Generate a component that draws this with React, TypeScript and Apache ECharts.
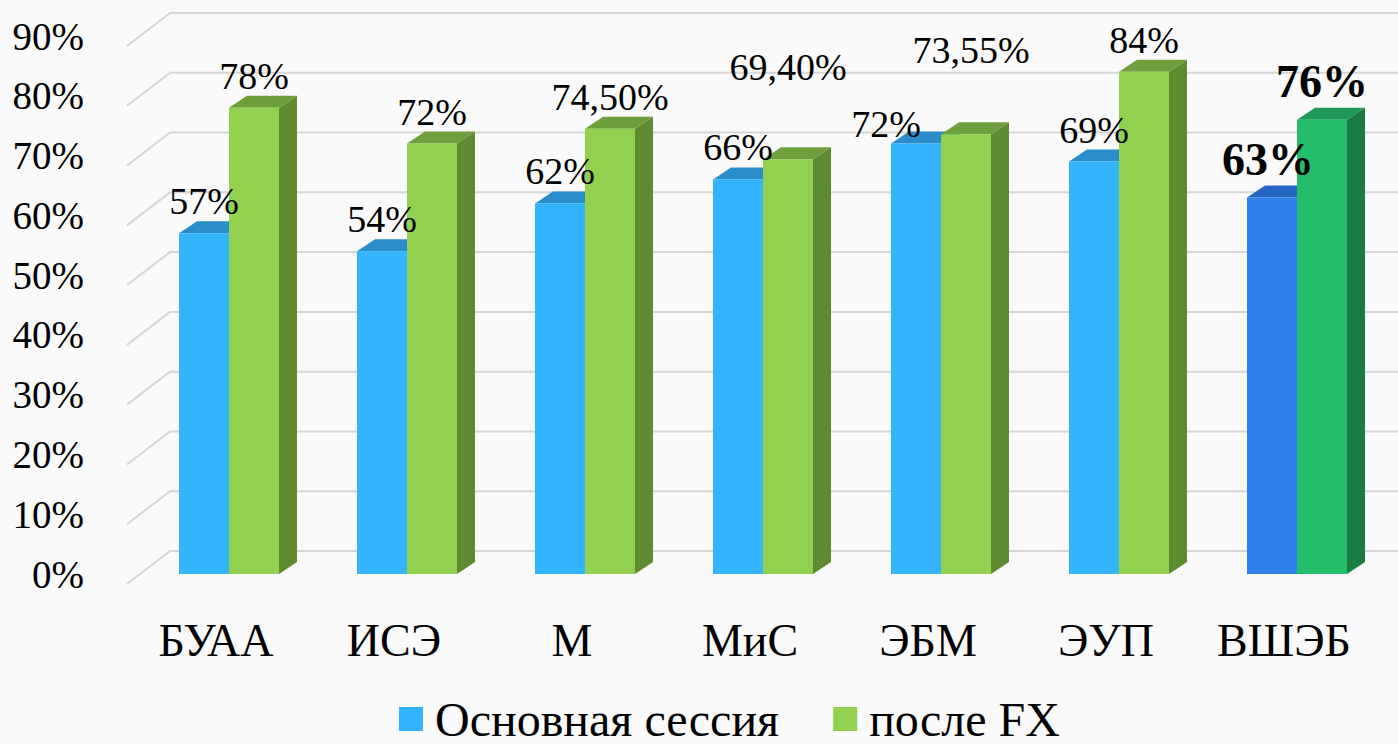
import React, { useEffect, useRef } from 'react';
import * as echarts from 'echarts';

const categories = ['БУАА', 'ИСЭ', 'М', 'МиС', 'ЭБМ', 'ЭУП', 'ВШЭБ'];
const mainSession = [57, 54, 62, 66, 72, 69, 63];
const afterFX = [78, 72, 74.5, 69.4, 73.55, 84, 76];
const yTicks = [0, 10, 20, 30, 40, 50, 60, 70, 80, 90];
const seriesNames = ['Основная сессия', 'после FX'];
const highlightCategory = 'ВШЭБ';

// label nudges in px [dx, dy]
const mainLabelNudge = [[0, 0], [0, 0], [0, 0], [0, 0], [-30, 12], [0, 0], [-4, -6]];
const fxLabelNudge = [[0, 0], [0, 0], [0, 0], [0, -60], [5, -52], [0, 0], [0, -6]];

const FONT = 'Liberation Serif';
const DX = 18;
const DY = 12;

const PAL = {
  main: { front: '#33b4fd', top: '#2a8ccb', side: '#2479b0' },
  fx: { front: '#92d050', top: '#6f9f3c', side: '#5e8a30' },
  mainHi: { front: '#2e80ec', top: '#2566c2', side: '#1f57a6' },
  fxHi: { front: '#24bd69', top: '#1e9a56', side: '#1a7b45' },
};

const fmt = (v: number) =>
  Number.isInteger(v) ? `${v}%` : `${v.toFixed(2).replace('.', ',')}%`;

const barGeom = (api: any, side: number) => {
  const i = api.value(0);
  const v = api.value(1);
  const top = api.coord([i, v]);
  const base = api.coord([i, 0]);
  const band = api.size([1, 0])[0];
  const w = (band * 50) / 178;
  const x0 = side === 0 ? top[0] - w : top[0];
  return { i, v, x0, x1: x0 + w, w, yT: top[1], yB: base[1] };
};

const barRenderer = (side: number, pal: any, palHi: any) => (params: any, api: any) => {
  const g = barGeom(api, side);
  const c = categories[g.i] === highlightCategory ? palHi : pal;
  return {
    type: 'group',
    children: [
      {
        type: 'polygon',
        shape: { points: [[g.x1, g.yT], [g.x1 + DX, g.yT - DY], [g.x1 + DX, g.yB - DY], [g.x1, g.yB]] },
        style: { fill: c.side },
      },
      {
        type: 'polygon',
        shape: { points: [[g.x0, g.yT], [g.x1, g.yT], [g.x1 + DX, g.yT - DY], [g.x0 + DX, g.yT - DY]] },
        style: { fill: c.top },
      },
      {
        type: 'rect',
        shape: { x: g.x0, y: g.yT, width: g.w, height: g.yB - g.yT },
        style: { fill: c.front },
      },
    ],
  };
};

const labelRenderer = (side: number, nudges: number[][]) => (params: any, api: any) => {
  const g = barGeom(api, side);
  const hi = categories[g.i] === highlightCategory;
  const n = nudges[g.i];
  return {
    type: 'text',
    x: (g.x0 + g.x1) / 2 + n[0],
    y: g.yT - 32 + n[1],
    style: {
      text: fmt(g.v),
      fill: '#000',
      fontSize: hi ? 46 : 38,
      fontWeight: hi ? 'bold' : 'normal',
      fontFamily: FONT,
      align: 'center',
      verticalAlign: 'middle',
    },
  };
};

const gridRenderer = (params: any, api: any) => {
  const v = api.value(1);
  const y = api.coord([0, v])[1];
  const gx = params.coordSys.x;
  return {
    type: 'polyline',
    shape: { points: [[gx - 13, y + 10], [gx + 30, y - 23], [api.getWidth(), y - 23]] },
    style: { stroke: '#d6d6d6', lineWidth: 2, fill: 'none' },
  };
};

export default function App() {
  const ref = useRef<HTMLDivElement>(null);
  useEffect(() => {
    if (!ref.current) return;
    const chart = echarts.init(ref.current, null, { renderer: 'svg' });
    const mainData = mainSession.map((v, i) => [i, v]);
    const fxData = afterFX.map((v, i) => [i, v]);
    chart.setOption({
      animation: false,
      backgroundColor: '#fafafa',
      grid: { left: 140, right: 12, top: 36, bottom: 170 },
      xAxis: {
        type: 'category',
        data: categories,
        axisLine: { show: false },
        axisTick: { show: false },
        axisLabel: {
          margin: 66,
          fontSize: 46,
          fontFamily: FONT,
          color: '#000',
          verticalAlign: 'middle',
          padding: [0, 26, 0, 0],
        },
      },
      yAxis: {
        type: 'value',
        min: 0,
        max: 90,
        interval: 10,
        splitLine: { show: false },
        axisLine: { show: false },
        axisTick: { show: false },
        axisLabel: {
          margin: 56,
          fontSize: 39,
          fontFamily: FONT,
          color: '#000',
          formatter: '{value}%',
          padding: [20, 0, 0, 0],
        },
      },
      legend: {
        data: seriesNames,
        left: 399,
        top: 695,
        padding: 0,
        icon: 'rect',
        itemWidth: 24,
        itemHeight: 24,
        itemGap: 54,
        textStyle: {
          fontSize: 48,
          fontFamily: FONT,
          color: '#000',
          padding: [10, 0, 0, 7],
        },
      },
      series: [
        {
          type: 'custom',
          name: 'grid',
          silent: true,
          clip: false,
          z: 1,
          data: yTicks.map((v) => [0, v]),
          encode: { x: 0, y: 1 },
          renderItem: gridRenderer,
        },
        {
          type: 'custom',
          name: seriesNames[0],
          z: 2,
          clip: false,
          itemStyle: { color: PAL.main.front },
          data: mainData,
          encode: { x: 0, y: 1 },
          renderItem: barRenderer(0, PAL.main, PAL.mainHi),
        },
        {
          type: 'custom',
          name: seriesNames[1],
          z: 3,
          clip: false,
          itemStyle: { color: PAL.fx.front },
          data: fxData,
          encode: { x: 0, y: 1 },
          renderItem: barRenderer(1, PAL.fx, PAL.fxHi),
        },
        {
          type: 'custom',
          name: 'labels-main',
          z: 10,
          clip: false,
          silent: true,
          data: mainData,
          encode: { x: 0, y: 1 },
          renderItem: labelRenderer(0, mainLabelNudge),
        },
        {
          type: 'custom',
          name: 'labels-fx',
          z: 10,
          clip: false,
          silent: true,
          data: fxData,
          encode: { x: 0, y: 1 },
          renderItem: labelRenderer(1, fxLabelNudge),
        },
      ],
    });
    return () => chart.dispose();
  }, []);
  return (
    <div
      ref={ref}
      style={{ position: 'fixed', left: 0, top: 0, width: 1398, height: 744 }}
    />
  );
}
